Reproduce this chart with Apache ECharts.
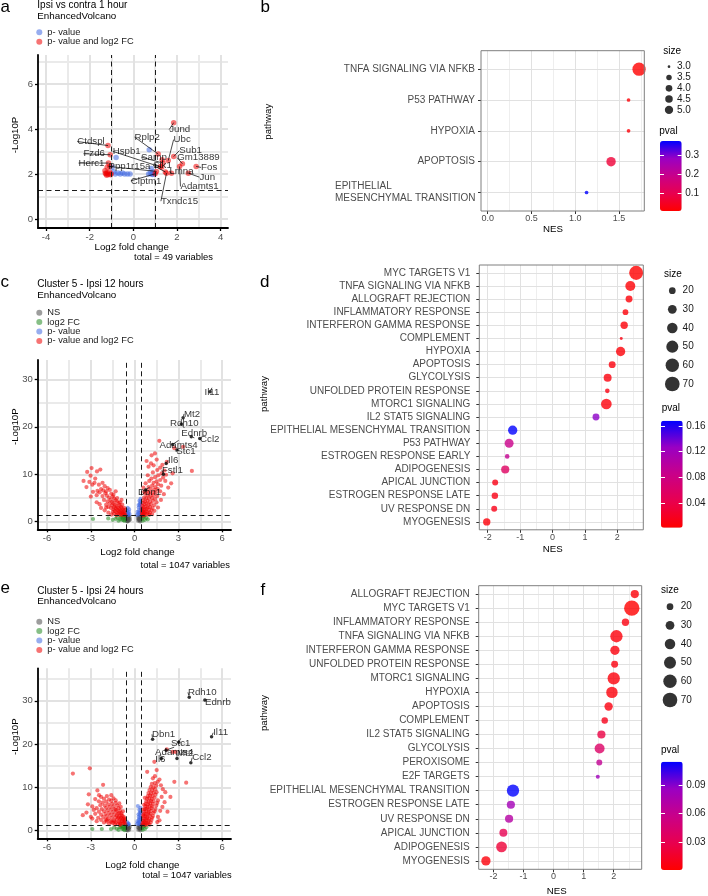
<!DOCTYPE html>
<html><head><meta charset="utf-8">
<script src="https://cdn.jsdelivr.net/npm/echarts@6/dist/echarts.min.js"></script>
<style>html,body{margin:0;padding:0;background:#fff}#chart{width:708px;height:896px}</style>
</head><body><div id="chart"></div>
<script>
// ================= DATA =================
// Panel a : Ipsi vs contra 1 hour (volcano)
const aPval = [[-0.79,2.74],[-0.97,2.3],[-0.83,2.0],[-0.7,2.05],[-0.6,2.0],[-0.5,2.05],[-0.4,2.0],[-0.27,2.0],[-0.15,2.0],[-0.9,2.1],
  [0.73,3.08],[0.7,2.0],[0.78,2.05],[0.85,2.0],[0.9,2.1],[0.95,2.0],[0.82,2.25],[0.88,1.98]];
const aBoth = [[-1.16,3.27],[-1.06,2.86],[-1.14,2.49],[-1.25,2.0],[-1.2,2.06],[-1.15,1.98],[-1.1,2.1],[-1.3,2.15],[-1.2,2.3],[-1.08,2.35],[-1.05,1.97],[-1.22,1.95],[-1.28,2.04],[-1.02,2.02],
  [1.85,4.29],[1.14,2.89],[1.6,2.6],[1.85,2.78],[2.25,2.46],[2.88,2.34],[1.36,2.49],[1.47,2.09],[1.75,2.04],[2.52,2.04],[2.12,2.34],[1.52,2.04],[1.0,2.01],[1.06,2.12],[1.3,2.3],[1.32,2.64],[1.24,2.34]];
const aGenes = ['Jund','Rplp2','Ubc','Sub1','Gm13889','Fos','Sarnp','Sik1','Lmna','Jun','Adamts1','Txndc15','Clptm1','Ppp1r15a','Hspb1','Ctdspl','Fzd6','Herc1'];
const aGenePts = [[1.85,4.29],[1.14,2.89],[1.6,2.6],[1.85,2.78],[2.25,2.46],[2.88,2.34],[1.36,2.49],[1.47,2.09],[1.75,2.04],[2.52,2.04],[2.12,2.34],[1.52,2.04],[1.0,2.01],[1.06,2.12],[1.3,2.3],[-1.16,3.27],[-1.06,2.86],[-1.14,2.49]];
const aFCcut = [-1, 1];
const aPcut = [1.3];
const aXTicks = [-4,-2,0,2,4];
const aYTicks = [0,2,4,6];

// Panel b : GSEA 1 hour
const bPath = ['TNFA SIGNALING VIA NFKB','P53 PATHWAY','HYPOXIA','APOPTOSIS','EPITHELIAL MESENCHYMAL TRANSITION'];
const bNES  = [1.73, 1.61, 1.61, 1.41, 1.13];
const bSize = [5, 3, 3, 4, 3];
const bPval = [0.005, 0.012, 0.014, 0.07, 0.376];
const bXTicks = [0, 0.5, 1.0, 1.5];
const bSizeBreaks = [3.0, 3.5, 4.0, 4.5, 5.0];
const bPvalTicks = [0.1, 0.2, 0.3];

// Panel c : Cluster 5 - Ipsi 12 hours (volcano)
const cNS = [[-0.55,0.2],[-0.5,0.5],[-0.45,0.8],[-0.4,1.1],[-0.52,1.0],[-0.38,0.3],[-0.47,0.1],[-0.42,0.6],[-0.54,0.7],[-0.35,0.9],[-0.5,0.05],[-0.44,1.2],[-0.33,0.45],[-0.48,0.35],
  [0.25,0.2],[0.3,0.6],[0.35,1.0],[0.4,0.3],[0.42,0.8],[0.28,1.1],[0.38,0.05],[0.33,0.4],[0.22,0.8],[0.41,1.2],[0.36,0.7],[0.27,0.45]];
const cFC = [[-2.85,0.57],[-1.81,0.7],[-1.2,0.9],[-1.0,0.5],[-0.9,1.1],[-0.8,0.7],[-0.75,0.3],[-0.7,1.0],[-0.65,0.6],[-1.1,0.2],[-0.85,0.4],[-0.95,0.9],[-0.68,0.2],[-1.3,0.6],[-0.62,1.2],[-0.78,1.0],[-1.5,0.4],
  [0.5,0.6],[0.6,1.0],[0.7,0.4],[0.55,0.2],[0.8,0.8],[0.65,1.15],[0.9,0.5]];
const cP = [[-0.5,1.5],[-0.45,1.8],[-0.4,2.1],[-0.52,2.3],[-0.42,1.4],[-0.38,2.6],[-0.48,2.9],[-0.55,1.9],[-0.35,1.6],
  [0.35,1.5],[0.4,2.0],[0.3,2.4],[0.42,2.9],[0.38,3.4],[0.41,3.9],[0.33,4.4],[0.4,4.8],[0.25,1.7],[0.2,2.1],[0.28,3.0],[0.15,1.4],[0.36,3.7],[0.43,2.5],[0.31,1.9],[0.39,4.2],[0.27,3.5]];
const cBoth = [[-3.5,8.6],[-3.25,10.5],[-2.95,11.3],[-3.02,9.7],[-2.58,10.6],[-2.35,11.0],[-2.7,9.1],[-3.3,7.3],[-2.85,6.3],[-2.45,7.8],[-2.2,8.2],[-2.05,7.5],[-1.85,7.1],[-2.3,6.9],[-2.55,6.5],[-1.7,6.7],[-2.0,6.0],[-1.6,5.9],[-2.2,5.4],[-1.9,5.5],
  [-1.75,5.1],[-1.5,5.3],[-1.4,4.9],[-1.65,4.6],[-1.85,4.3],[-2.1,4.6],[-1.3,4.5],[-1.55,4.2],[-1.2,4.3],[-1.45,3.9],[-1.7,3.8],[-1.95,3.6],[-1.35,3.6],[-1.1,3.9],[-1.25,3.3],[-1.55,3.4],[-1.05,3.5],[-0.95,3.2],[-1.15,3.0],[-1.4,3.1],
  [-1.8,3.1],[-1.62,2.9],[-1.3,2.8],[-0.9,2.9],[-1.05,2.7],[-1.2,2.5],[-1.45,2.6],[-0.8,2.6],[-0.95,2.4],[-1.1,2.3],[-1.35,2.3],[-0.75,2.2],[-0.88,2.1],[-1.02,2.0],[-1.25,2.0],[-1.5,2.1],[-0.7,1.9],[-0.82,1.8],[-0.95,1.7],[-1.15,1.75],
  [-1.4,1.7],[-0.68,1.6],[-0.78,1.5],[-0.9,1.45],[-1.05,1.5],[-1.25,1.4],[-1.6,1.5],[-0.65,1.4],[-1.8,1.9],[-2.05,2.4],[-2.3,2.9],[-1.95,3.0],[-2.4,3.7],[-2.6,4.1],[-0.72,2.9],[-0.66,2.5],[-0.85,3.6],[-1.0,4.1],[-1.2,5.0],[-1.45,5.7],
  [-2.75,8.2],[-2.9,7.8],[-3.1,8.4],[-1.3,6.4],[-0.9,4.6],[-2.6,5.6],[-3.0,5.3],[-2.4,6.2],[-2.15,6.6],[-1.95,6.4],
  [0.82,12.8],[1.39,14.4],[1.51,13.1],[1.69,17.05],[2.72,15.5],[3.32,15.8],[2.2,12.6],[3.92,10.7],[1.16,14.0],[0.95,11.6],[1.3,11.9],[1.75,11.4],[1.55,10.9],[2.05,10.8],[1.85,10.2],[1.25,10.4],[1.62,9.8],[1.4,9.4],[1.95,9.3],[1.15,9.1],
  [1.75,8.8],[1.5,8.5],[1.3,8.2],[2.1,8.6],[1.0,8.6],[1.6,7.9],[1.2,7.6],[1.42,7.3],[1.82,7.6],[0.95,7.3],[1.1,6.9],[1.35,6.7],[1.58,6.9],[0.85,6.5],[1.0,6.2],[1.22,6.1],[1.45,6.2],[1.75,6.4],[0.72,5.9],[0.9,5.6],
  [1.08,5.5],[1.3,5.6],[1.55,5.4],[0.65,5.1],[0.8,5.0],[0.98,4.9],[1.18,5.0],[1.4,4.8],[0.6,4.5],[0.72,4.3],[0.88,4.4],[1.05,4.2],[1.25,4.4],[1.5,4.1],[0.55,3.9],[0.68,3.7],[0.82,3.8],[0.95,3.6],[1.12,3.7],[1.35,3.5],
  [0.52,3.3],[0.62,3.1],[0.75,3.2],[0.9,3.0],[1.05,3.1],[1.22,2.9],[0.5,2.7],[0.6,2.6],[0.7,2.5],[0.82,2.7],[0.98,2.5],[1.15,2.4],[0.5,2.2],[0.58,2.1],[0.68,2.0],[0.78,2.2],[0.9,2.0],[1.05,1.9],[0.5,1.8],[0.56,1.6],
  [0.65,1.7],[0.75,1.5],[0.88,1.6],[1.0,1.45],[0.52,1.4],[0.62,1.35],[1.2,1.6],[1.35,2.3],[1.6,3.0],[1.8,4.6],[2.0,5.8],[2.3,7.2],[2.5,8.1],[2.15,9.9],[0.6,7.2],[0.75,8.1],[0.9,9.8],[1.12,12.3],[0.65,6.3],[2.6,10.2],[1.9,12.0]];
const cGenes = ['Il11','Mt2','Rdh10','Ednrb','Ccl2','Adamts4','Stc1','Il6','Fstl1','Dbn1'];
const cGenePts = [[5.16,27.4],[3.32,21.9],[3.2,20.6],[3.88,17.9],[4.46,17.56],[2.6,16.3],[2.9,15.1],[2.16,12.3],[1.97,10.0],[0.75,6.67]];
const cFCcut = [-0.56, 0.44];
const cPcut = [1.3];
const cXTicks = [-6,-3,0,3,6];
const cYTicks = [0,10,20,30];

// Panel d : GSEA 12 hours
const dPath = ['MYC TARGETS V1','TNFA SIGNALING VIA NFKB','ALLOGRAFT REJECTION','INFLAMMATORY RESPONSE','INTERFERON GAMMA RESPONSE','COMPLEMENT','HYPOXIA','APOPTOSIS','GLYCOLYSIS','UNFOLDED PROTEIN RESPONSE','MTORC1 SIGNALING','IL2 STAT5 SIGNALING','EPITHELIAL MESENCHYMAL TRANSITION','P53 PATHWAY','ESTROGEN RESPONSE EARLY','ADIPOGENESIS','APICAL JUNCTION','ESTROGEN RESPONSE LATE','UV RESPONSE DN','MYOGENESIS'];
const dNES  = [2.58,2.40,2.36,2.25,2.21,2.12,2.10,1.84,1.70,1.69,1.66,1.34,-1.23,-1.34,-1.40,-1.46,-1.77,-1.78,-1.80,-2.03];
const dSize = [65,37,21,16,23,7,33,21,26,12,41,21,33,31,12,27,17,19,17,23];
const dPval = [0.0015,0.004,0.005,0.006,0.006,0.01,0.005,0.008,0.008,0.01,0.007,0.13,0.168,0.085,0.09,0.055,0.012,0.012,0.013,0.006];
const dXTicks = [-2,-1,0,1,2];
const dSizeBreaks = [20,30,40,50,60,70];
const dPvalTicks = [0.04,0.08,0.12,0.16];

// Panel e : Cluster 5 - Ipsi 24 hours (volcano)
const eNS = [[-0.56,0.15],[-0.5,0.45],[-0.46,0.85],[-0.41,1.15],[-0.53,0.95],[-0.37,0.25],[-0.48,0.05],[-0.43,0.55],[-0.55,0.7],[-0.34,0.85],[-0.51,0.3],[-0.45,1.25],[-0.39,0.6],
  [0.26,0.25],[0.31,0.65],[0.36,1.05],[0.41,0.35],[0.43,0.85],[0.29,1.15],[0.39,0.1],[0.34,0.45],[0.23,0.75],[0.42,1.25],[0.37,0.7]];
const eFC = [[-2.9,0.4],[-2.25,0.4],[-1.62,0.4],[-1.22,0.45],[-1.0,0.8],[-0.9,1.1],[-0.8,0.6],[-0.75,0.3],[-0.7,1.0],[-0.65,0.6],[-1.1,0.2],[-0.85,0.4],[-0.95,0.9],[-0.68,0.15],[-0.62,1.2],[-0.78,1.0],[-1.4,0.7],
  [0.5,0.6],[0.6,1.0],[0.7,0.4],[0.55,0.2],[0.8,0.8],[0.65,1.15]];
const eP = [[-0.5,1.4],[-0.45,1.7],[-0.52,2.0],[-0.4,1.5],[0.35,1.5],[0.4,2.0],[0.3,2.5],[0.42,3.0],[0.38,3.6],[0.43,4.2],[0.33,4.8],[0.4,5.3],[0.25,1.8],[0.2,2.2],[0.28,3.2],[0.15,1.5],[0.36,4.0],[0.43,2.6],[0.31,2.0],[0.39,4.5],[0.27,3.8],[0.22,5.7],[0.41,1.4],[0.34,2.9]];
const eBoth = [[-4.23,13.2],[-3.07,14.4],[-2.16,10.6],[-2.44,8.2],[-3.14,8.4],[-3.3,4.2],[-3.0,3.2],[-3.55,3.6],[-2.7,7.3],[-2.9,5.6],[-3.2,6.1],[-2.55,9.3],
  [-2.3,7.8],[-2.1,7.4],[-1.9,8.0],[-1.75,7.2],[-2.45,6.8],[-2.2,6.5],[-1.95,6.7],[-1.6,6.9],[-1.45,7.5],[-2.35,5.9],[-2.05,5.8],[-1.8,6.1],[-1.55,6.2],[-1.3,6.4],[-2.6,5.2],[-2.25,5.0],[-1.95,5.3],[-1.7,5.5],
  [-1.45,5.6],[-1.2,5.8],[-2.45,4.4],[-2.1,4.5],[-1.85,4.7],[-1.6,4.9],[-1.35,5.0],[-1.1,5.2],[-2.3,3.7],[-2.0,3.9],[-1.75,4.1],[-1.5,4.3],[-1.25,4.4],[-1.0,4.6],[-2.5,3.0],[-2.15,3.2],[-1.9,3.4],[-1.65,3.6],[-1.4,3.7],[-1.15,3.9],
  [-0.9,4.0],[-2.3,2.5],[-2.0,2.6],[-1.8,2.8],[-1.55,3.0],[-1.3,3.1],[-1.05,3.3],[-0.82,3.4],[-2.1,1.9],[-1.9,2.1],[-1.65,2.3],[-1.42,2.4],[-1.2,2.6],[-0.98,2.7],[-0.75,2.8],[-1.75,1.6],[-1.5,1.8],[-1.28,1.9],[-1.08,2.1],[-0.88,2.2],
  [-0.68,2.3],[-1.35,1.45],[-1.15,1.5],[-0.95,1.6],[-0.78,1.7],[-0.64,1.5],[-1.0,1.35],[-0.7,1.9],[-0.85,2.6],[-0.72,3.1],[-0.95,3.0],[-1.12,2.95],[-1.22,3.5],[-0.9,3.6],[-0.66,2.6],[-0.78,2.05],[-1.6,2.0],[-1.02,1.85],[-1.38,2.15],[-1.9,2.45],
  [-1.05,4.1],[-1.28,4.8],[-0.8,4.5],[-1.6,8.2],[-1.3,7.0],[-1.05,6.3],[-0.95,5.5],[-2.8,4.8],[-2.7,3.9],[-2.9,2.8],[-2.6,2.2],
  [2.72,11.3],[3.53,11.1],[1.93,9.6],[1.51,14.0],[0.86,13.6],[1.39,12.6],[1.35,15.9],[2.2,18.8],[2.6,18.2],[2.8,18.2],[1.7,11.8],[1.25,12.1],[2.45,7.8],[2.1,8.9],[1.8,10.5],
  [0.52,1.4],[0.62,1.45],[0.74,1.35],[0.88,1.5],[1.02,1.4],[0.55,1.8],[0.66,1.9],[0.78,1.75],[0.92,1.85],[1.1,1.95],[0.56,2.3],[0.68,2.2],[0.8,2.4],[0.95,2.3],[1.15,2.5],[0.6,2.8],[0.72,2.7],[0.85,2.9],[1.0,2.75],[1.2,3.0],
  [0.62,3.3],[0.75,3.4],[0.88,3.2],[1.03,3.5],[1.25,3.4],[0.64,3.9],[0.77,3.8],[0.92,4.0],[1.08,3.9],[1.3,4.1],[0.66,4.4],[0.8,4.5],[0.95,4.3],[1.12,4.6],[1.36,4.5],[0.7,5.0],[0.84,5.1],[0.99,4.9],[1.16,5.2],[1.42,5.0],
  [0.73,5.6],[0.88,5.5],[1.03,5.7],[1.2,5.6],[1.48,5.8],[0.76,6.2],[0.92,6.1],[1.07,6.3],[1.25,6.2],[1.55,6.4],[0.8,6.8],[0.96,6.7],[1.12,6.9],[1.3,6.8],[1.6,7.0],[0.85,7.4],[1.0,7.5],[1.17,7.3],[1.36,7.6],[0.9,8.0],
  [1.06,8.1],[1.22,8.0],[1.42,8.3],[0.95,8.7],[1.12,8.6],[1.3,8.8],[1.5,8.9],[1.02,9.4],[1.2,9.3],[1.4,9.6],[1.1,10.1],[1.28,10.0],[1.48,10.4],[1.18,10.8],[1.38,11.0],[1.58,11.3],
  [1.6,3.2],[1.75,4.6],[1.9,5.5],[2.05,6.6],[1.7,2.4],[0.6,4.9],[0.65,6.0],[0.7,7.6],[1.55,2.0],[1.85,7.8],[2.25,4.4],[0.58,3.6]];
const eGenes = ['Rdh10','Ednrb','Il11','Dbn1','Stc1','Adamts4','Mt2','Ccl2','Il6'];
const eGenePts = [[3.74,30.8],[4.81,30.2],[5.27,21.7],[1.23,21.1],[3.02,20.4],[2.16,18.6],[2.9,16.7],[3.85,15.7],[1.83,16.7]];
const eFCcut = [-0.56, 0.44];
const ePcut = [1.3];
const eXTicks = [-6,-3,0,3,6];
const eYTicks = [0,10,20,30];

// Panel f : GSEA 24 hours
const fPath = ['ALLOGRAFT REJECTION','MYC TARGETS V1','INFLAMMATORY RESPONSE','TNFA SIGNALING VIA NFKB','INTERFERON GAMMA RESPONSE','UNFOLDED PROTEIN RESPONSE','MTORC1 SIGNALING','HYPOXIA','APOPTOSIS','COMPLEMENT','IL2 STAT5 SIGNALING','GLYCOLYSIS','PEROXISOME','E2F TARGETS','EPITHELIAL MESENCHYMAL TRANSITION','ESTROGEN RESPONSE LATE','UV RESPONSE DN','APICAL JUNCTION','ADIPOGENESIS','MYOGENESIS'];
const fNES  = [2.70,2.60,2.39,2.09,2.04,2.03,2.00,1.94,1.83,1.70,1.59,1.53,1.52,1.47,-1.35,-1.42,-1.48,-1.67,-1.73,-2.25];
const fSize = [27,76,23,52,33,21,52,46,28,19,27,37,17,10,52,27,27,26,42,33];
const fPval = [0.003,0.0005,0.006,0.004,0.005,0.006,0.004,0.004,0.006,0.01,0.025,0.04,0.062,0.082,0.1147,0.08,0.07,0.03,0.02,0.004];
const fXTicks = [-2,-1,0,1,2];
const fSizeBreaks = [20,30,40,50,60,70];
const fPvalTicks = [0.03,0.06,0.09];

// ================= STYLE / LAYOUT =================
const FONT = '"Liberation Sans", Arial, Helvetica, sans-serif';
const PVAL_COLORS = ['#FF0000','#E8004F','#C90089','#9A00C3','#0000FF'];
const VCOL = {ns:'#4d4d4d', fc:'#228b22', p:'#4169e1', both:'#ee0000'};
const sizeB = v => 3.7 + 9.6 * Math.pow(Math.max(v - 3, 0) / 2, 0.75);
const sizeBLeg = v => 2.7 + 5.6 * Math.sqrt(Math.max(v - 3, 0) / 2);
const sizeDF = v => 2.05 * Math.sqrt(v) - 2.47;
const aLabOff = [[6,7],[-11,-17],[14,-21],[17,-6],[16,-6],[13,1],[-9,-6],[-3,-7],[10,-2],[19,4],[20,20],[13,28],[-9,7],[-27,-5],[-35,-16],[-17,-4],[-16,-1],[-17,0]];
const cLabOff = [[2,1],[9,-4],[3,-1],[3,-4],[10,1],[6,1],[9,1],[7,-3],[9,-4],[4,2]];
const eLabOff = [[13,-5],[13,2],[9,-4],[11,-5],[2,1],[8,2],[8,-5],[11,-5],[-1,1]];
const DOT_LAYER = 1;   // dot-plot panels are painted on their own canvas layer

const grids = [
  {left:38, top:55, width:190, height:173},            //0 a
  {left:481, top:50.7, width:163.3, height:160.3},     //1 b
  {left:37.7, top:360, width:193.3, height:169.3},     //2 c
  {left:479.3, top:265, width:164, height:264.8},      //3 d
  {left:37.7, top:668.3, width:193.3, height:170},     //4 e
  {left:478.7, top:585.7, width:163, height:283.6},    //5 f
  {left:663, top:61.3, width:12, height:54},           //6 b size legend
  {left:666, top:281.3, width:12.6, height:112},       //7 d size legend
  {left:663.7, top:597.3, width:12.6, height:112},     //8 f size legend
  {left:660, top:141, width:21.7, height:70},          //9 b colorbar
  {left:661, top:420.7, width:21.7, height:107},       //10 d colorbar
  {left:661, top:761.7, width:21.7, height:108.3}      //11 f colorbar
].map((g, i) => Object.assign({outerBoundsMode:'none', containLabel:false}, g,
   (i === 1 || i === 3 || i === 5) ? {show:true, borderColor:'#7f7f7f', borderWidth:1, backgroundColor:'transparent', z:4, zlevel:DOT_LAYER} : {show:false}));

const xAxes = [], yAxes = [], series = [], visualMaps = [];
const extraX = [], extraY = [];
const DOT_MAJ = {color:'#e1e1e1', width:1}, DOT_MIN = {color:'#eeeeee', width:1};

function volAxes(gi, xr, yr, xt, yt) {
  const common = {gridIndex:gi, type:'value', z:5, splitLine:{show:false},
    axisLine:{show:true, onZero:false, lineStyle:{color:'#000', width:1.8}}};
  xAxes.push(Object.assign({}, common, {min:xr[0], max:xr[1],
    axisTick:{show:true, customValues:xt, length:3, lineStyle:{color:'#000', width:1.3}},
    axisLabel:{customValues:xt, color:'#4d4d4d', fontSize:9.5, fontFamily:FONT, margin:4.5}}));
  yAxes.push(Object.assign({}, common, {min:yr[0], max:yr[1],
    axisTick:{show:true, customValues:yt, length:3, lineStyle:{color:'#000', width:1.3}},
    axisLabel:{customValues:yt, color:'#4d4d4d', fontSize:9.5, fontFamily:FONT, margin:5}}));
}
function dotAxes(gi, xr, xt, xMinor, names, xfmt, ymargin, yfmt) {
  xAxes.push({gridIndex:gi, type:'value', zlevel:DOT_LAYER, z:1, min:xr[0], max:xr[1], axisLine:{show:false, onZero:false},
    splitLine:{show:true, customValues:xt, lineStyle:DOT_MAJ},
    axisTick:{show:true, customValues:xt, length:3, lineStyle:{color:'#333', width:1}},
    axisLabel:{customValues:xt, formatter:xfmt, color:'#4d4d4d', fontSize:9, fontFamily:FONT, margin:3}});
  // hidden companion axis that only carries the minor vertical grid lines
  extraX.push({gridIndex:gi, type:'value', zlevel:DOT_LAYER, z:0.5, position:'top', min:xr[0], max:xr[1], axisLine:{show:false, onZero:false},
    splitLine:{show:true, customValues:xMinor, lineStyle:DOT_MIN},
    axisTick:{show:false, customValues:xMinor}, axisLabel:{show:false, customValues:xMinor}});
  const idx = names.map((n, i) => i);
  yAxes.push({gridIndex:gi, type:'value', zlevel:DOT_LAYER, z:1, inverse:true, min:-0.6, max:names.length - 0.4, axisLine:{show:false, onZero:false},
    splitLine:{show:true, customValues:idx, lineStyle:DOT_MAJ},
    axisTick:{show:true, customValues:idx, length:3, lineStyle:{color:'#333', width:1}},
    axisLabel:{customValues:idx, formatter: yfmt || (v => names[Math.round(v)]), color:'#4d4d4d', fontSize:10, fontFamily:FONT, margin:ymargin}});
}
function legAxes(gi, breaks, fmt, margin) {
  xAxes.push({gridIndex:gi, type:'value', min:-1, max:1, show:false, axisLine:{onZero:false}});
  yAxes.push({gridIndex:gi, type:'category', data:breaks.map(fmt), inverse:true, position:'right',
    axisLine:{show:false, onZero:false}, axisTick:{show:false}, splitLine:{show:false},
    axisLabel:{interval:0, color:'#1a1a1a', fontSize:10, fontFamily:FONT, margin:margin}});
}
function barAxes(gi, vals, ticks) {
  const mn = Math.min(...vals), mx = Math.max(...vals);
  xAxes.push({gridIndex:gi, type:'value', min:0, max:1, show:false, axisLine:{onZero:false}});
  yAxes.push({gridIndex:gi, type:'value', min:mn, max:mx, position:'right', z:10, splitLine:{show:false}, axisLine:{show:false, onZero:false},
    axisTick:{show:true, inside:true, customValues:ticks, length:4, lineStyle:{color:'#fff', width:1}},
    axisLabel:{customValues:ticks, color:'#1a1a1a', fontSize:10, fontFamily:FONT, margin:3.5}});
  extraY.push({gridIndex:gi, type:'value', min:mn, max:mx, position:'left', z:10, splitLine:{show:false}, axisLine:{show:false, onZero:false},
    axisTick:{show:true, inside:true, customValues:ticks, length:4, lineStyle:{color:'#fff', width:1}},
    axisLabel:{show:false}});
  return [mn, mx];
}

// straight reference lines spanning a volcano grid (vertical at xs, horizontal at ys)
function lineSeries(ai, xr, yr, xs, ys, z, st) {
  const data = [...xs.map(v => ({coords:[[v, yr[0]], [v, yr[1]]]})), ...ys.map(v => ({coords:[[xr[0], v], [xr[1], v]]}))];
  series.push({type:'lines', coordinateSystem:'cartesian2d', xAxisIndex:ai, yAxisIndex:ai, z:z, silent:true,
    polyline:false, data:data, lineStyle:Object.assign({opacity:1, curveness:0}, st)});
}
const VOL_MAJ = {color:'#e2e2e2', width:2}, VOL_MIN = {color:'#eaeaea', width:2};
const DASH = {color:'#1a1a1a', width:1, type:[5, 3.5]};

function volcano(ai, xr, yr, xt, yt, xMinor, yMinor, groups, fcCut, pCut, genes, genePts, offs, ptSize, dotSize) {
  volAxes(ai, xr, yr, xt, yt);
  lineSeries(ai, xr, yr, xMinor, yMinor, 1, VOL_MIN);
  lineSeries(ai, xr, yr, xt, yt, 1, VOL_MAJ);
  groups.forEach(g => series.push({type:'scatter', name:g[0], xAxisIndex:ai, yAxisIndex:ai, data:g[1], z:3, silent:true,
    symbolSize:ptSize, itemStyle:{color:g[2], opacity:0.55}}));
  lineSeries(ai, xr, yr, fcCut, pCut, 4, DASH);
  series.push({type:'scatter', xAxisIndex:ai, yAxisIndex:ai, data:genePts, z:6, silent:true,
    symbolSize:dotSize, itemStyle:{color:'#000'},
    label:{show:true, position:'inside', formatter:p => genes[p.dataIndex], color:'#000', fontSize:9.7, fontFamily:FONT},
    labelLine:{show:true, lineStyle:{color:'#000', width:0.7}},
    labelLayout:p => ({dx:offs[p.dataIndex][0], dy:offs[p.dataIndex][1]})});
}
function dotplot(ai, xr, xt, xMinor, names, nes, size, pval, sizeFn, xfmt, ymargin, yfmt) {
  dotAxes(ai, xr, xt, xMinor, names, xfmt, ymargin, yfmt);
  series.push({type:'scatter', xAxisIndex:ai, yAxisIndex:ai, zlevel:DOT_LAYER, z:3, silent:true,
    data: nes.map((n, i) => [n, i, size[i], pval[i]]), symbolSize: v => sizeFn(v[2])});
  return series.length - 1;
}

// ---- build panels (grid order 0..5)
volcano(0, [-4.37, 4.34], [-0.4, 7.3], aXTicks, aYTicks, [-3,-1,1,3], [1,3,5,7],
  [['p- value', aPval, VCOL.p], ['p- value and log2 FC', aBoth, VCOL.both]],
  aFCcut, aPcut, aGenes, aGenePts, aLabOff, 5.5, 0);
const sB = dotplot(1, [-0.077, 1.79], bXTicks, [0.25,0.75,1.25,1.75], bPath, bNES, bSize, bPval, sizeB, v => v.toFixed(1), 6,
  v => { const n = bPath[Math.round(v)]; return n.length > 25 ? '{w|EPITHELIAL}\n{w|MESENCHYMAL TRANSITION}' : n; });
yAxes[1].axisLabel.rich = {w:{width:140, align:'left', fontSize:10, color:'#4d4d4d', fontFamily:FONT, lineHeight:12.4}};
volcano(2, [-6.64, 6.6], [-1.6, 34.1], cXTicks, cYTicks, [-4.5,-1.5,1.5,4.5], [5,15,25],
  [['NS', cNS, VCOL.ns], ['log2 FC', cFC, VCOL.fc], ['p- value', cP, VCOL.p], ['p- value and log2 FC', cBoth, VCOL.both]],
  cFCcut, cPcut, cGenes, cGenePts, cLabOff, 4.2, 3.5);
const sD = dotplot(3, [-2.26, 2.8], dXTicks, [-1.5,-0.5,0.5,1.5,2.5], dPath, dNES, dSize, dPval, sizeDF, v => String(v), 9);
volcano(4, [-6.64, 6.6], [-1.75, 37.5], eXTicks, eYTicks, [-4.5,-1.5,1.5,4.5], [5,15,25,35],
  [['NS', eNS, VCOL.ns], ['log2 FC', eFC, VCOL.fc], ['p- value', eP, VCOL.p], ['p- value and log2 FC', eBoth, VCOL.both]],
  eFCcut, ePcut, eGenes, eGenePts, eLabOff, 4.2, 3.5);
const sF = dotplot(5, [-2.49, 2.93], fXTicks, [-1.5,-0.5,0.5,1.5,2.5], fPath, fNES, fSize, fPval, sizeDF, v => String(v), 9);

// ---- size legends (grids 6..8)
legAxes(6, bSizeBreaks, v => v.toFixed(1), 2);
legAxes(7, dSizeBreaks, v => String(v), 4);
legAxes(8, fSizeBreaks, v => String(v), 4.4);
[[6, bSizeBreaks, sizeBLeg], [7, dSizeBreaks, sizeDF], [8, fSizeBreaks, sizeDF]].forEach(s => {
  series.push({type:'scatter', xAxisIndex:s[0], yAxisIndex:s[0], silent:true, z:3, itemStyle:{color:'#000'},
    data: s[1].map((v, i) => [0, i, v]), symbolSize: v => s[2](v[2])});
});

// ---- colour bars (grids 9..11)
const rB = barAxes(9, bPval, bPvalTicks);
const rD = barAxes(10, dPval, dPvalTicks);
const rF = barAxes(11, fPval, fPvalTicks);
extraX.forEach(a => xAxes.push(a));
extraY.forEach(a => yAxes.push(a));
[[sB, rB, grids[9]], [sD, rD, grids[10]], [sF, rF, grids[11]]].forEach(v => {
  visualMaps.push({type:'continuous', seriesIndex:[v[0]], dimension:3, min:v[1][0], max:v[1][1],
    inRange:{color:PVAL_COLORS}, calculable:false, orient:'vertical', padding:0, text:null, hoverLink:false,
    left:v[2].left, top:v[2].top, itemWidth:v[2].width, itemHeight:v[2].height, z:0});
});

// ---- texts
const texts = [
  ['a', 0.5, 7.4, 17, 'left'], ['b', 260.5, 7.4, 17, 'left'], ['c', 0.5, 282.7, 17, 'left'],
  ['d', 260, 282.7, 17, 'left'], ['e', 0.5, 588.4, 17, 'left'], ['f', 260.5, 590.4, 17, 'left'],
  ['Ipsi vs contra 1 hour', 37.3, 5.2, 10, 'left'], ['EnhancedVolcano', 37.3, 16.2, 9.8, 'left'],
  ['Cluster 5 - Ipsi 12 hours', 37.3, 284, 10, 'left'], ['EnhancedVolcano', 37.3, 295, 9.8, 'left'],
  ['Cluster 5 - Ipsi 24 hours', 37.3, 591.7, 10, 'left'], ['EnhancedVolcano', 37.3, 601.7, 9.8, 'left'],
  ['-Log10P', 15.8, 135, 9.7, 'center', 1], ['Log2 fold change', 131.7, 247, 9.7, 'center'], ['total = 49 variables', 213, 257.5, 9.4, 'right'],
  ['-Log10P', 15.8, 426.7, 9.7, 'center', 1], ['Log2 fold change', 137.5, 552.7, 9.7, 'center'], ['total = 1047 variables', 230, 565, 9.4, 'right'],
  ['-Log10P', 15.8, 736.7, 9.7, 'center', 1], ['Log2 fold change', 142.3, 865, 9.7, 'center'], ['total = 1047 variables', 231.7, 875.7, 9.4, 'right'],
  ['NES', 553, 229, 9.7, 'center'], ['pathway', 268, 121.7, 9.7, 'center', 1],
  ['NES', 552.7, 549.3, 9.7, 'center'], ['pathway', 264, 394, 9.7, 'center', 1],
  ['NES', 556.7, 891.2, 9.7, 'center'], ['pathway', 264, 713, 9.7, 'center', 1],
  ['size', 663.3, 51.7, 10, 'left'], ['pval', 659.3, 131.7, 10, 'left'],
  ['size', 664, 274.7, 10, 'left'], ['pval', 661.7, 408.3, 10, 'left'],
  ['size', 661, 590.3, 10, 'left'], ['pval', 661, 750, 10, 'left']
];

const legendBase = {orient:'vertical', itemWidth:6, itemHeight:6, icon:'circle', padding:0, selectedMode:false,
  textStyle:{fontSize:9.3, lineHeight:10, fontFamily:FONT, color:'#1a1a1a'}};
const legends = [
  Object.assign({}, legendBase, {data:['p- value','p- value and log2 FC'], left:36.3, top:27.3, itemGap:-0.5}),
  Object.assign({}, legendBase, {data:['NS','log2 FC','p- value','p- value and log2 FC'], left:36.3, top:307.7, itemGap:-0.6}),
  Object.assign({}, legendBase, {data:['NS','log2 FC','p- value','p- value and log2 FC'], left:36.3, top:616.7, itemGap:-0.6})
];

const chart = echarts.init(document.getElementById('chart'), null, {renderer:'canvas', width:708, height:896});
chart.setOption({
  backgroundColor:'#ffffff', animation:false,
  textStyle:{fontFamily:FONT},
  grid:grids, xAxis:xAxes, yAxis:yAxes, series:series, visualMap:visualMaps, legend:legends,
  graphic: texts.map(t => ({type:'text', x:t[1], y:t[2], rotation:t[5] ? Math.PI / 2 : 0, silent:true, z:10,
    style:{text:t[0], fill:'#000', font:t[3] + 'px ' + FONT, align:t[4], verticalAlign:'middle'}}))
});
</script></body></html>
